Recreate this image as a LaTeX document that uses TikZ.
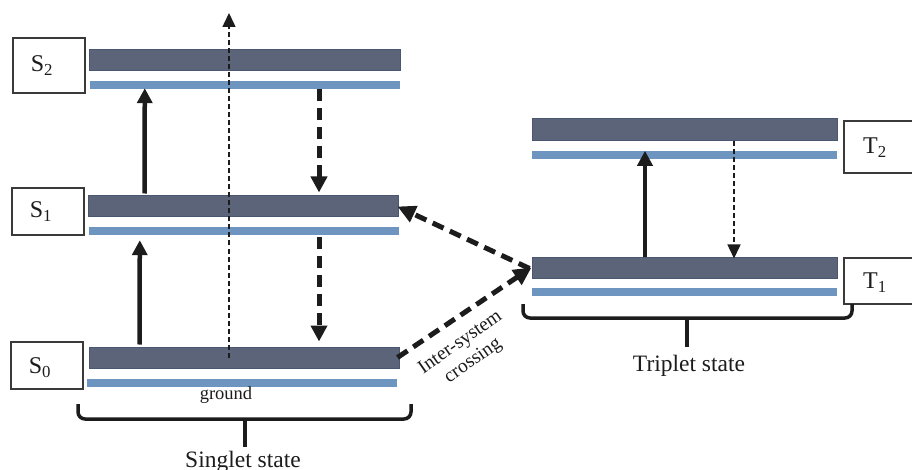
\documentclass[tikz,border=0pt]{standalone}
\usepackage{fontspec}
\setmainfont{Liberation Serif}
\usetikzlibrary{arrows.meta,calc}
\definecolor{barDark}{HTML}{5B6478}
\definecolor{barEdge}{HTML}{4B5670}
\definecolor{barLight}{HTML}{6E95C0}
\definecolor{ink}{HTML}{1C1C1C}
\definecolor{boxEdge}{HTML}{3A3A3A}
\begin{document}
\begin{tikzpicture}[x=1pt,y=-1pt,
  darkbar/.style={draw=barEdge,fill=barDark,line width=1pt,inner sep=0pt,minimum height=21pt},
  lightbar/.style={fill=barLight,inner sep=0pt,minimum height=8pt},
  labelbox/.style={draw=boxEdge,fill=white,line width=1.1pt,inner sep=0pt,minimum width=72pt},
  labeltext/.style={text=ink,inner sep=0pt,font=\fontsize{24}{26}\selectfont},
  solidarrow/.style={draw=ink,line width=4.5pt,-{Triangle[length=15pt,width=15pt]}},
  thickdash/.style={draw=ink,line width=5pt,dash pattern=on 12pt off 7pt,-{Triangle[length=16pt,width=16pt]}},
  thindash/.style={draw=ink,line width=1.5pt,dash pattern=on 5pt off 3pt,-{Triangle[length=14pt,width=13pt]}},
  brace/.style={draw=ink,line width=3.5pt,rounded corners=7pt},
  bracetip/.style={draw=ink,line width=3.5pt},
  caption/.style={text=ink,inner sep=0pt,font=\fontsize{23.5}{26}\selectfont}
]
\useasboundingbox (0,0) rectangle (912,470);

% singlet bars
\node[darkbar,minimum width=311pt] (s2d) at (244.5,60.5) {};
\node[lightbar,minimum width=310pt] (s2l) at (245,85) {};
\node[darkbar,minimum width=310pt] (s1d) at (243,206.5) {};
\node[lightbar,minimum width=310pt] (s1l) at (244,231) {};
\node[darkbar,minimum width=310pt] (s0d) at (244,357.5) {};
\node[lightbar,minimum width=310pt] (s0l) at (242,383) {};

% triplet bars
\node[darkbar,minimum width=305pt,minimum height=22pt] (t2d) at (684.5,130) {};
\node[lightbar,minimum width=305pt] (t2l) at (684.5,155) {};
\node[darkbar,minimum width=305pt] (t1d) at (684.5,267.5) {};
\node[lightbar,minimum width=305pt] (t1l) at (684.5,292) {};

% label boxes
\node[labelbox,minimum height=55pt] (s2box) at (49,65.5) {};
\node[labeltext] (s2txt) at ([xshift=-7pt]s2box.center) {S\textsubscript{2}};
\node[labelbox,minimum height=47pt] (s1box) at (48,211.5) {};
\node[labeltext] (s1txt) at ([xshift=-7pt]s1box.center) {S\textsubscript{1}};
\node[labelbox,minimum height=47pt] (s0box) at (47,365.5) {};
\node[labeltext] (s0txt) at ([xshift=-7pt,yshift=-2pt]s0box.center) {S\textsubscript{0}};
\node[labelbox,minimum height=52pt] (t2box) at (880,147) {};
\node[labeltext] (t2txt) at ([xshift=-5pt,yshift=-1pt]t2box.center) {T\textsubscript{2}};
\node[labelbox,minimum height=46pt] (t1box) at (880,281) {};
\node[labeltext] (t1txt) at ([xshift=-5pt,yshift=-2pt]t1box.center) {T\textsubscript{1}};

% singlet transitions
\draw[solidarrow] ([xshift=51pt,yshift=2pt]s0d.north west) -- ([xshift=51pt,yshift=-5pt]s1l.south west);
\draw[solidarrow] ([xshift=57pt,yshift=2pt]s1d.north west) -- ([xshift=55pt,yshift=1pt]s2l.south west);
\coordinate (topend) at (229,13);
\draw[thindash] ([xshift=-15pt]s0d.center) -- (topend);
\draw[thickdash] ([xshift=74pt]s2l.south) -- ([xshift=76pt,yshift=3pt]s1d.north);
\draw[thickdash] ([xshift=75pt,yshift=-2pt]s1l.south) -- ([xshift=75pt,yshift=5pt]s0d.north);

% triplet transitions
\draw[solidarrow] ([xshift=-39.5pt]t1d.north) -- ([xshift=-39.5pt]t2l.north);
\draw[thindash] ([xshift=49.5pt]t2d.south) -- ([xshift=49.5pt,yshift=-2pt]t1d.north);

% inter-system crossing
\draw[thickdash,-{Triangle[length=18pt,width=17pt]}] ([xshift=-2pt]s0d.east) -- (t1d.west);
\draw[thickdash,-{Triangle[length=18pt,width=17pt]}] ([xshift=-2pt,yshift=-1pt]t1d.west) -- ([xshift=-1pt]s1d.east);
\node[text=ink,inner sep=0pt,rotate=35,align=center,font=\fontsize{19.5}{22}\selectfont] (isc) at (467,352) {Inter-system\\crossing};

% braces
\draw[brace] (78,404) -- (78,419) -- (411,419) -- (411,404);
\draw[bracetip] (245,419) -- (245,447);
\draw[brace] (523,304) -- (523,318) -- (852,318) -- (852,304);
\draw[bracetip] (687,318) -- (687,347);

% texts
\node[text=ink,inner sep=0pt,anchor=base,font=\fontsize{18.5}{20}\selectfont] (ground) at (226,399) {ground};
\node[caption,anchor=base] (singlet) at (243,467.5) {Singlet state};
\node[caption,anchor=base] (triplet) at (689,371) {Triplet state};
\end{tikzpicture}
\end{document}
